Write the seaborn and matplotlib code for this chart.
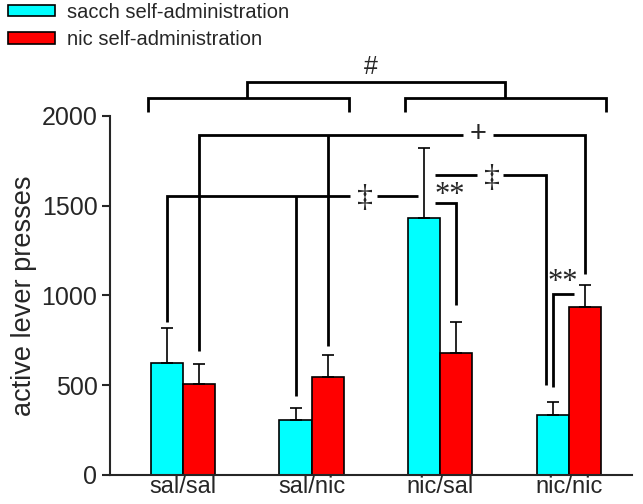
import pandas as pd
import seaborn as sns
import matplotlib.pyplot as plt

# valores (media y media + SEM)
groups = ['sal/sal', 'sal/nic', 'nic/sal', 'nic/nic']
series = ['sacch self-administration', 'nic self-administration']
sacch_mean = [625, 308, 1430, 332]
sacch_top = [820, 373, 1820, 406]
nic_mean = [508, 545, 680, 935]
nic_top = [615, 670, 852, 1060]
colors = ['#00FFFF', '#FF0000']

df = pd.DataFrame({
    'group': groups * 2,
    'series': [series[0]] * 4 + [series[1]] * 4,
    'presses': sacch_mean + nic_mean,
})
tops = [sacch_top, nic_top]

sns.set_style('ticks')
plt.rcParams['font.family'] = ['Liberation Sans', 'DejaVu Sans']

fig = plt.figure(figsize=(6.43, 5.04), dpi=100)
ax = fig.add_axes([0.171, 0.058, 0.812, 0.712])
sns.barplot(data=df, x='group', y='presses', hue='series', order=groups,
            hue_order=series, palette=colors, width=0.5, errorbar=None,
            saturation=1, edgecolor='black', linewidth=1.2, ax=ax)

# barras de error solo hacia arriba
centers = []
for cont, top in zip(ax.containers, tops):
    xs = [b.get_x() + b.get_width() / 2 for b in cont]
    hs = [b.get_height() for b in cont]
    up = [t - h for t, h in zip(top, hs)]
    ax.errorbar(xs, hs, yerr=[[0] * len(hs), up], fmt='none', ecolor='black',
                elinewidth=1.2, capsize=4, capthick=1.2, zorder=1)
    centers.append(xs)
cy, rd = centers

ax.set_xlim(-0.567, 3.49)
ax.set_ylim(0, 2000)
ax.set_yticks([0, 500, 1000, 1500, 2000])
ax.set_xlabel('')
ax.set_ylabel('active lever presses', fontsize=19.5, labelpad=3)
ax.tick_params(axis='y', labelsize=18, length=6, width=1.5, pad=3)
ax.tick_params(axis='x', labelsize=17, length=0, pad=1)
for s in ['left', 'bottom']:
    ax.spines[s].set_linewidth(1.5)
sns.despine(ax=ax)

handles, labels = ax.get_legend_handles_labels()
ax.get_legend().remove()
fig.legend(handles, labels, loc='upper left', bbox_to_anchor=(0.012, 0.995),
           frameon=False, fontsize=14.5, handlelength=2.35, handleheight=0.5,
           handletextpad=0.6, labelspacing=0.42, borderaxespad=0, borderpad=0)


def line(xs, ys):
    ax.plot(xs, ys, color='black', lw=2, clip_on=False,
            solid_capstyle='butt', solid_joinstyle='miter')


def mark(x, y, s, size=16, fam='Liberation Serif'):
    ax.text(x, y, s, ha='center', va='center', fontsize=size,
            family=fam, clip_on=False)


# corchetes superiores (#)
line([-0.27, -0.27, 1.29, 1.29], [2024, 2101, 2101, 2024])
line([1.725, 1.725, 3.29, 3.29], [2024, 2101, 2101, 2024])
line([0.5, 0.5, 2.5, 2.5], [2101, 2187, 2187, 2101])
mark(1.46, 2275, '#', size=18, fam='Liberation Sans')

# + (rojo sal/sal, sal/nic vs nic/nic)
line([rd[0], rd[0], 2.18], [692, 1894, 1894])
line([rd[1], rd[1]], [720, 1894])
line([2.41, rd[3], rd[3]], [1894, 1894, 1118])
mark(2.295, 1900, '+', size=21, fam='Liberation Sans')

# doble daga inferior
line([cy[0], cy[0], 1.30], [850, 1556, 1556])
line([cy[1], cy[1]], [439, 1556])
line([1.505, 1.826], [1556, 1556])
mark(1.417, 1540, '\u2021', size=23)

# doble daga superior
line([1.958, 2.283], [1673, 1673])
line([2.49, 2.82, 2.82], [1673, 1673, 498])
mark(2.40, 1652, '\u2021', size=23)

# ** nic/sal
line([1.958, rd[2], rd[2]], [1512, 1512, 946])
mark(2.07, 1555, '**', size=22, fam='Liberation Serif')

# ** nic/nic
line([3.04, cy[3], cy[3]], [1007, 1007, 489])
mark(2.95, 1073, '**', size=22, fam='Liberation Serif')

fig.savefig('out.png', dpi=100)
